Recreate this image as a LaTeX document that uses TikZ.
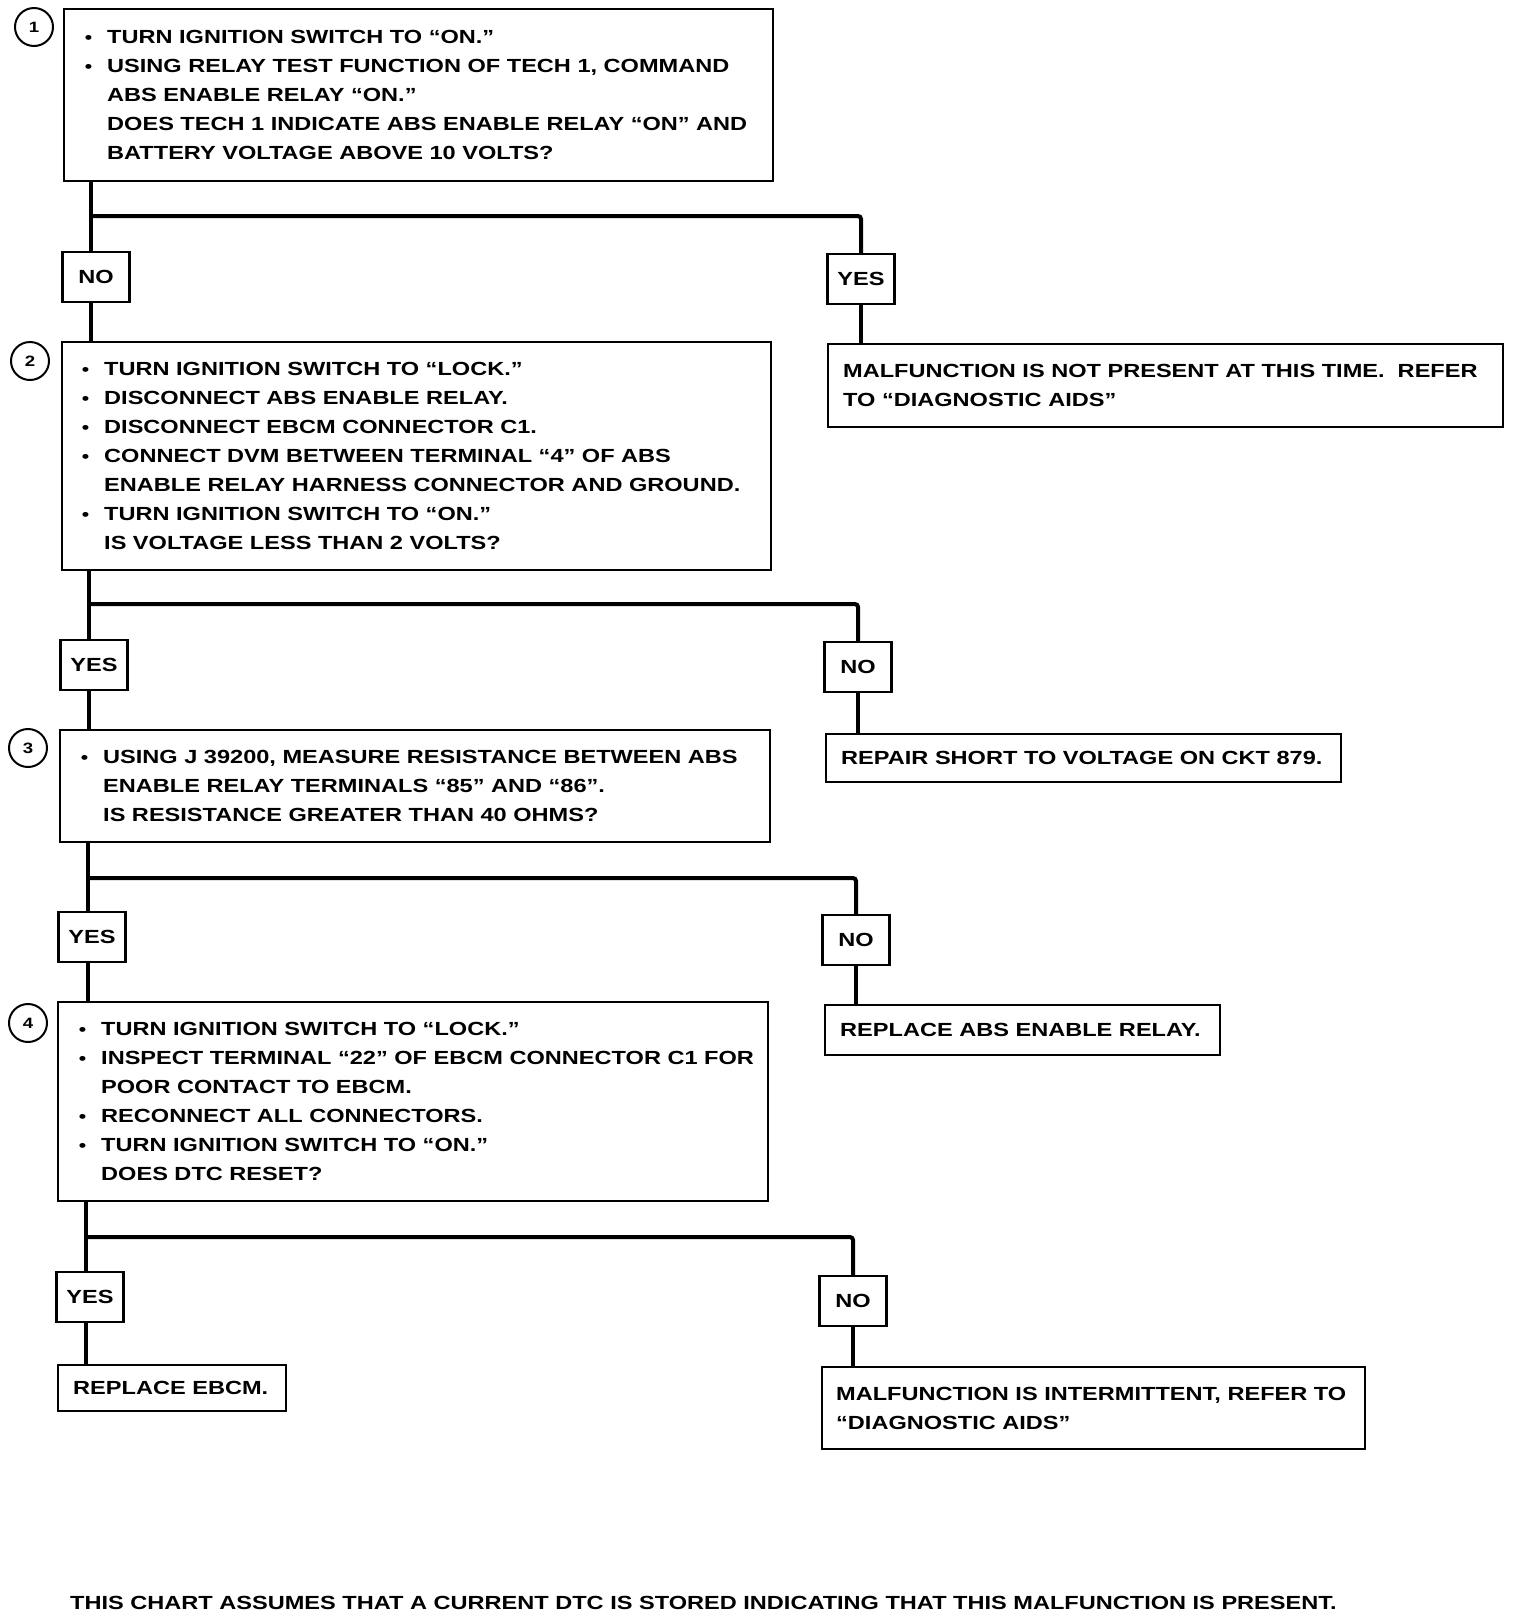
\documentclass[tikz,border=0pt]{standalone}
\usepackage{fontspec}
\setmainfont{Liberation Sans}[FakeStretch=1.24]
\newcommand{\bul}{\llap{{\fontsize{17}{17}\selectfont\textbullet}\hspace{15pt}}}
\begin{document}
\begin{tikzpicture}[x=1pt,y=-1pt,
  box/.style={draw, line width=2.2pt, inner sep=0pt, anchor=north west},
  txt/.style={align=left, anchor=west, inner sep=0pt, font=\bfseries\fontsize{19}{29}\selectfont},
  lbl/.style={draw, fill=white, line width=2.2pt, minimum width=67pt, minimum height=50pt, inner sep=0pt, font=\bfseries\fontsize{19}{23}\selectfont},
  num/.style={draw, circle, line width=2pt, minimum size=38pt, inner sep=0pt, font=\bfseries\fontsize{15}{15}\selectfont},
  conn/.style={line width=4pt, rounded corners=3pt}]
\fill[white] (0,0) rectangle (1520,1618);
\useasboundingbox (0,0) rectangle (1520,1618);

% step 1
\node[box, minimum width=709pt, minimum height=172pt] (b1) at (63,8) {};
\node[txt] (t1) at ([xshift=44pt]b1.west) {\bul TURN IGNITION SWITCH TO “ON.”\\
\bul USING RELAY TEST FUNCTION OF TECH 1, COMMAND\\
ABS ENABLE RELAY “ON.”\\
DOES TECH 1 INDICATE ABS ENABLE RELAY “ON” AND\\
BATTERY VOLTAGE ABOVE 10 VOLTS?};
\node[num] (c1) at (34,27) {1};
\coordinate (j1) at (91,216);
\node[lbl] (n1) at (96,277) {NO};
\node[lbl] (y1) at (861,279) {YES};
\node[box, minimum width=675pt, minimum height=83pt] (r1) at (827,343) {};
\node[txt] (tr1) at ([xshift=16pt]r1.west) {MALFUNCTION IS NOT PRESENT AT THIS TIME.\ \ REFER\\
TO “DIAGNOSTIC AIDS”};

% step 2
\node[box, minimum width=709pt, minimum height=228pt] (b2) at (61,341) {};
\node[txt] (t2) at ([xshift=43pt]b2.west) {\bul TURN IGNITION SWITCH TO “LOCK.”\\
\bul DISCONNECT ABS ENABLE RELAY.\\
\bul DISCONNECT EBCM CONNECTOR C1.\\
\bul CONNECT DVM BETWEEN TERMINAL “4” OF ABS\\
ENABLE RELAY HARNESS CONNECTOR AND GROUND.\\
\bul TURN IGNITION SWITCH TO “ON.”\\
IS VOLTAGE LESS THAN 2 VOLTS?};
\node[num] (c2) at (30,361) {2};
\coordinate (j2) at (89,604);
\node[lbl] (y2) at (94,665) {YES};
\node[lbl] (n2) at (858,667) {NO};
\node[box, minimum width=515pt, minimum height=48pt] (r2) at (825,733) {};
\node[txt] (tr2) at ([xshift=16pt]r2.west) {REPAIR SHORT TO VOLTAGE ON CKT 879.};

% step 3
\node[box, minimum width=710pt, minimum height=112pt] (b3) at (59,729) {};
\node[txt] (t3) at ([xshift=44pt]b3.west) {\bul USING J 39200, MEASURE RESISTANCE BETWEEN ABS\\
ENABLE RELAY TERMINALS “85” AND “86”.\\
IS RESISTANCE GREATER THAN 40 OHMS?};
\node[num] (c3) at (28,748) {3};
\coordinate (j3) at (88,878);
\node[lbl] (y3) at (92,937) {YES};
\node[lbl] (n3) at (856,940) {NO};
\node[box, minimum width=395pt, minimum height=50pt] (r3) at (824,1004) {};
\node[txt] (tr3) at ([xshift=16pt]r3.west) {REPLACE ABS ENABLE RELAY.};

% step 4
\node[box, minimum width=710pt, minimum height=199pt] (b4) at (57,1001) {};
\node[txt] (t4) at ([xshift=44pt]b4.west) {\bul TURN IGNITION SWITCH TO “LOCK.”\\
\bul INSPECT TERMINAL “22” OF EBCM CONNECTOR C1 FOR\\
POOR CONTACT TO EBCM.\\
\bul RECONNECT ALL CONNECTORS.\\
\bul TURN IGNITION SWITCH TO “ON.”\\
DOES DTC RESET?};
\node[num] (c4) at (28,1023) {4};
\coordinate (j4) at (86,1237);
\node[lbl] (y4) at (90,1297) {YES};
\node[lbl] (n4) at (853,1301) {NO};
\node[box, minimum width=228pt, minimum height=46pt] (r4) at (57,1364) {};
\node[txt] (tr4) at ([xshift=16pt]r4.west) {REPLACE EBCM.};
\node[box, minimum width=543pt, minimum height=82pt] (r5) at (821,1366) {};
\node[txt] (tr5) at ([xshift=15pt]r5.west) {MALFUNCTION IS INTERMITTENT, REFER TO\\
“DIAGNOSTIC AIDS”};

% connectors
\draw[conn] (b1.south -| j1) -- (j1 |- n1.north);
\draw[conn] (j1) -| (y1.north);
\draw[conn] (j1 |- n1.south) -- (j1 |- b2.north);
\draw[conn] (y1.south) -- (y1.south |- r1.north);

\draw[conn] (b2.south -| j2) -- (j2 |- y2.north);
\draw[conn] (j2) -| (n2.north);
\draw[conn] (j2 |- y2.south) -- (j2 |- b3.north);
\draw[conn] (n2.south) -- (n2.south |- r2.north);

\draw[conn] (b3.south -| j3) -- (j3 |- y3.north);
\draw[conn] (j3) -| (n3.north);
\draw[conn] (j3 |- y3.south) -- (j3 |- b4.north);
\draw[conn] (n3.south) -- (n3.south |- r3.north);

\draw[conn] (b4.south -| j4) -- (j4 |- y4.north);
\draw[conn] (j4) -| (n4.north);
\draw[conn] (j4 |- y4.south) -- (j4 |- r4.north);
\draw[conn] (n4.south) -- (n4.south |- r5.north);

\node[txt] (foot) at (70,1603) {THIS CHART ASSUMES THAT A CURRENT DTC IS STORED INDICATING THAT THIS MALFUNCTION IS PRESENT.};
\end{tikzpicture}
\end{document}
